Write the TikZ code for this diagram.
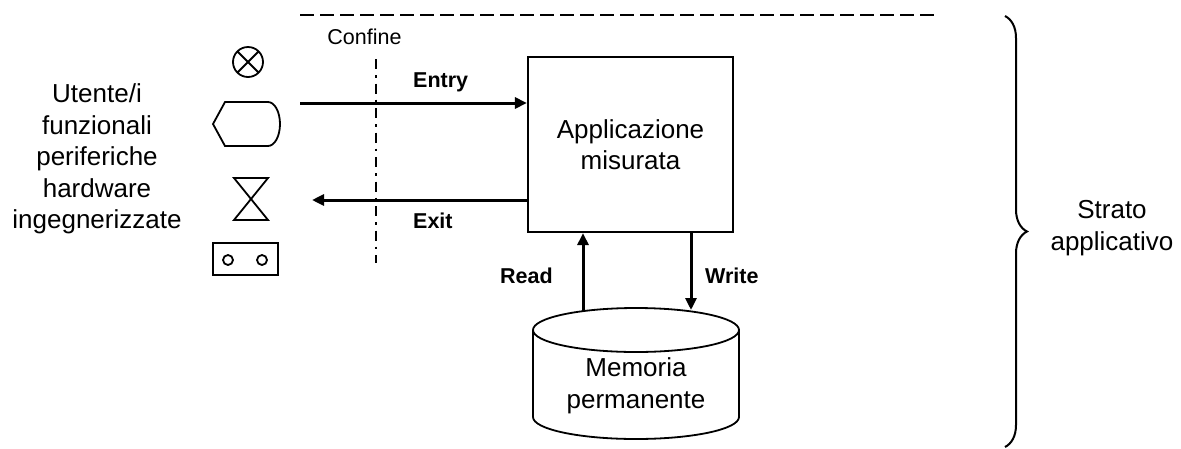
\documentclass[tikz,border=0pt]{standalone}
\usepackage{fontspec}
\setmainfont{Liberation Sans}
\usetikzlibrary{arrows.meta,decorations.pathreplacing}
\begin{document}
\begin{tikzpicture}[x=1pt,y=-1pt,
		sym/.style={line width=1.8pt},
		flow/.style={line width=3pt,-{Triangle[length=12pt,width=11pt]}},
		lbl/.style={font=\fontsize{21.5}{26}\selectfont\bfseries,anchor=base west,inner sep=0pt},
		txt/.style={font=\fontsize{26}{31.5}\selectfont,align=center,inner sep=0pt}]
		\useasboundingbox (0,0) rectangle (1181,448);
		\draw[line width=2.2pt,dash pattern=on 14pt off 6pt] (300,15) -- (940,15);
		\node[font=\fontsize{21.5}{26}\selectfont,anchor=base,inner sep=0pt] (confine) at (364.5,44) {Confine};
		\draw[line width=2.2pt,dash pattern=on 10pt off 6pt on 2.5pt off 6pt] (376,59) -- (376,263);
		\node[txt] (user) at (97,159) {Utente/i\\funzionali\\periferiche\\hardware\\ingegnerizzate};
		\draw[sym] (248,62) circle (15) (237.4,51.4) -- (258.6,72.6) (237.4,72.6) -- (258.6,51.4);
		\draw[sym] (225,102) -- (268,102) arc[start angle=-90,end angle=90,x radius=12,y radius=22] -- (225,146) -- (213,124) -- cycle;
		\draw[sym] (234,178) -- (268,178) -- (234,220) -- (268,220) -- cycle;
		\draw[sym] (213,243) rectangle (278,275) (228,260) circle (5) (262,260) circle (5);
		\node[txt,draw,line width=2.2pt,minimum width=205pt,minimum height=175pt] (app) at (630.5,144.5) {Applicazione\\misurata};
		\draw[sym] (636,330) ellipse (103 and 22);
		\draw[sym] (533,330) -- (533,417) arc[start angle=180,end angle=0,x radius=103,y radius=22] -- (739,330);
		\node[txt] (mem) at (636,386) {Memoria\\permanente};
		\coordinate (src) at (300,103);
		\coordinate (snk) at (312,200);
		\coordinate (rd) at (583,311);
		\coordinate (wr) at (691,310);
		\draw[flow] (src) -- (app.west |- src);
		\draw[flow] (app.west |- snk) -- (snk);
		\draw[flow] (rd) -- (app.south -| rd);
		\draw[flow] (app.south -| wr) -- (wr);
		\node[lbl] (entry) at (413,87) {Entry};
		\node[lbl] (exit) at (413,228) {Exit};
		\node[lbl] (read) at (500,283) {Read};
		\node[lbl] (write) at (705,283) {Write};
		\coordinate (top) at (1005,16);
		\coordinate (bot) at (1005,447);
		\draw[line width=2pt,decorate,decoration={brace,amplitude=22pt}] (top) -- (bot);
		\node[txt,font=\fontsize{26}{32}\selectfont] (layer) at (1112,228) {Strato\\applicativo};
\end{tikzpicture}
\end{document}
